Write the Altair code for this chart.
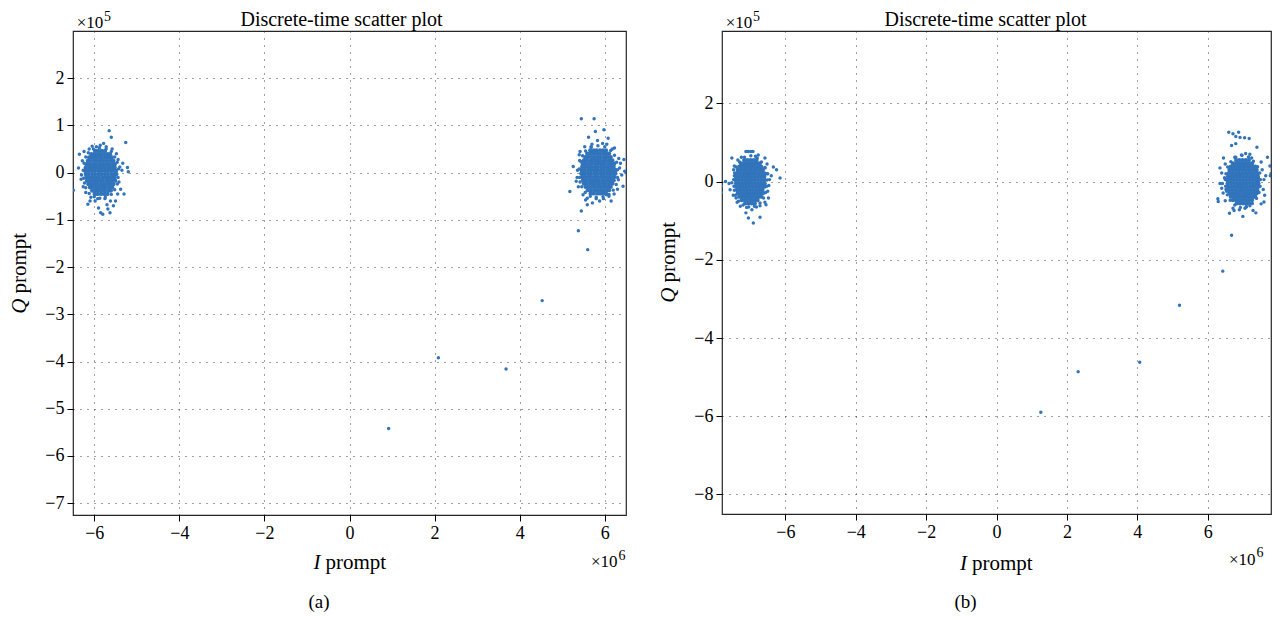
import altair as alt
import pandas as pd

# ---------------- data (I in units of 1e6, Q in units of 1e5) ----------------
# Panel (a): left cluster core, row by row
a_left_core_q = [0.46, 0.39, 0.32, 0.25, 0.18, 0.11, 0.04, -0.03, -0.10, -0.17, -0.24, -0.31, -0.38, -0.45]
a_left_core_i = [
    [-5.98, -5.91, -5.83, -5.75],
    [-6.07, -6.00, -5.92, -5.85, -5.77, -5.69, -5.63],
    [-6.12, -6.04, -5.97, -5.89, -5.82, -5.74, -5.66, -5.59],
    [-6.15, -6.08, -6.00, -5.93, -5.85, -5.78, -5.70, -5.62, -5.55],
    [-6.18, -6.11, -6.03, -5.96, -5.88, -5.81, -5.73, -5.66, -5.58, -5.52],
    [-6.20, -6.12, -6.05, -5.97, -5.90, -5.82, -5.75, -5.67, -5.60, -5.52],
    [-6.21, -6.14, -6.06, -5.99, -5.91, -5.84, -5.76, -5.69, -5.61, -5.54, -5.49],
    [-6.20, -6.13, -6.05, -5.98, -5.90, -5.83, -5.75, -5.68, -5.60, -5.53, -5.48],
    [-6.19, -6.11, -6.04, -5.96, -5.89, -5.81, -5.74, -5.66, -5.59, -5.52],
    [-6.17, -6.10, -6.02, -5.95, -5.87, -5.80, -5.72, -5.65, -5.57, -5.51],
    [-6.14, -6.07, -5.99, -5.92, -5.84, -5.77, -5.69, -5.62, -5.55],
    [-6.10, -6.03, -5.95, -5.88, -5.80, -5.73, -5.65, -5.58],
    [-6.05, -5.97, -5.90, -5.82, -5.75, -5.67, -5.61],
    [-5.99, -5.92, -5.84, -5.76, -5.69],
]
a_left_halo_i = [-6.49, -6.35, -6.37, -6.31, -6.28, -6.30, -6.26, -6.24, -6.20, -6.15, -6.12, -6.08, -6.05,
                 -5.98, -5.95, -5.90, -5.85, -5.80, -5.86, -5.78, -5.72, -5.68, -5.63, -5.65, -5.60, -5.58,
                 -5.55, -5.50, -5.48, -5.45, -5.44, -5.42, -5.40, -5.38, -5.35, -5.30, -5.26, -5.22, -5.20,
                 -5.33, -5.75, -5.92, -6.10, -5.62, -5.70,
                 -6.26, -6.25, -6.24, -6.20, -6.14, -6.02, -5.88, -5.72, -5.60, -5.52, -5.46, -5.43, -5.44,
                 -5.46, -5.52, -5.60, -5.74, -5.87, -6.00, -6.12, -6.20, -6.23]
a_left_halo_q = [-0.37, 0.39, 0.10, -0.14, 0.25, -0.05, -0.30, 0.45, -0.42, -0.67, 0.50, -0.52, 0.56,
                 -0.60, 0.55, -0.75, -0.85, -0.88, 0.58, 0.62, 0.55, -0.77, -0.85, 0.89, 0.75, 0.50,
                 -0.70, -0.60, 0.40, -0.45, 0.28, -0.20, 0.12, -0.35, 0.05, -0.45, 0.64, 0.11, 0.02,
                 0.20, -0.55, -0.55, -0.60, -0.60, -0.68,
                 0.05, -0.12, 0.20, 0.33, 0.42, 0.50, 0.53, 0.50, 0.45, 0.33, 0.22, 0.08, -0.10,
                 -0.24, -0.36, -0.46, -0.52, -0.54, -0.51, -0.44, -0.32, -0.22]

# Panel (a): right cluster core
a_right_core_q = [0.47, 0.40, 0.33, 0.26, 0.19, 0.12, 0.05, -0.02, -0.09, -0.16, -0.23, -0.30, -0.37, -0.44]
a_right_core_i = [
    [5.66, 5.74, 5.81, 5.89, 5.96, 6.03],
    [5.59, 5.66, 5.74, 5.81, 5.88, 5.96, 6.03, 6.10],
    [5.54, 5.61, 5.69, 5.76, 5.84, 5.91, 5.99, 6.06, 6.14],
    [5.51, 5.58, 5.66, 5.73, 5.81, 5.88, 5.96, 6.03, 6.11, 6.18],
    [5.48, 5.55, 5.63, 5.70, 5.78, 5.85, 5.93, 6.00, 6.08, 6.15, 6.22],
    [5.47, 5.54, 5.62, 5.69, 5.77, 5.84, 5.92, 5.99, 6.07, 6.14, 6.21],
    [5.46, 5.53, 5.61, 5.68, 5.76, 5.83, 5.91, 5.98, 6.06, 6.13, 6.20, 6.25],
    [5.45, 5.52, 5.60, 5.67, 5.75, 5.82, 5.90, 5.97, 6.05, 6.12, 6.19, 6.25],
    [5.47, 5.54, 5.62, 5.69, 5.77, 5.84, 5.92, 5.99, 6.07, 6.14, 6.22],
    [5.49, 5.56, 5.64, 5.71, 5.79, 5.86, 5.94, 6.01, 6.09, 6.16, 6.21],
    [5.51, 5.58, 5.66, 5.73, 5.81, 5.88, 5.96, 6.03, 6.11, 6.18],
    [5.55, 5.62, 5.70, 5.77, 5.85, 5.92, 6.00, 6.07, 6.14],
    [5.60, 5.67, 5.75, 5.82, 5.90, 5.97, 6.05, 6.10],
    [5.67, 5.74, 5.82, 5.89, 5.96, 6.03],
]
a_right_halo_i = [5.45, 5.75, 5.98, 5.78, 5.62, 6.08, 5.83, 6.05, 6.23, 5.53, 5.26, 5.41, 6.45, 6.50, 6.47,
                  6.43, 6.30, 5.18, 5.33, 5.49, 5.59, 5.59, 5.71, 5.88, 6.04, 6.15, 6.10, 5.45, 6.35, 6.32,
                  6.33, 5.36, 5.38, 5.40, 5.70, 5.95, 5.55, 5.80, 5.97, 6.22, 5.68, 6.18, 5.35, 6.37, 6.40, 5.42,
                  5.40, 5.41, 5.43, 5.48, 5.55, 5.68, 5.84, 6.00, 6.14, 6.23, 6.28, 6.30, 6.30,
                  6.27, 6.20, 6.10, 5.96, 5.80, 5.66, 5.54, 5.46, 5.42]
a_right_halo_q = [1.14, 1.14, 0.91, 0.87, 0.75, 0.73, 0.68, 0.60, 0.52, 0.55, 0.13, 0.26, 0.28, 0.00, 0.03,
                  -0.29, -0.35, -0.40, -0.18, -0.47, -0.54, -0.68, -0.64, -0.60, -0.47, -0.60, -0.50, -0.81, 0.10, -0.15,
                  0.30, 0.05, -0.30, 0.38, 0.60, 0.62, -0.58, -0.55, -0.55, -0.45, 0.55, 0.50, -0.10, 0.20, -0.05, 0.45,
                  0.08, -0.10, 0.24, 0.36, 0.46, 0.54, 0.57, 0.55, 0.47, 0.37, 0.22, 0.06, -0.10,
                  -0.25, -0.37, -0.46, -0.51, -0.52, -0.50, -0.42, -0.30, -0.20]
# Panel (a): transition points
a_path_i = [5.38, 5.60, 4.53, 3.68, 2.09, 0.92]
a_path_q = [-1.23, -1.63, -2.71, -4.16, -3.92, -5.42]

# Panel (b): left cluster core
b_left_core_q = [0.55, 0.465, 0.38, 0.295, 0.21, 0.125, 0.04, -0.045, -0.13, -0.215, -0.30, -0.385, -0.47, -0.555]
b_left_core_i = [
    [-7.17, -7.08, -6.99, -6.90, -6.82],
    [-7.26, -7.17, -7.08, -6.99, -6.90, -6.81, -6.73],
    [-7.31, -7.22, -7.13, -7.04, -6.95, -6.86, -6.77, -6.69],
    [-7.35, -7.26, -7.17, -7.08, -6.99, -6.90, -6.81, -6.72, -6.64],
    [-7.38, -7.29, -7.20, -7.11, -7.02, -6.93, -6.84, -6.75, -6.66, -6.60],
    [-7.40, -7.31, -7.22, -7.13, -7.04, -6.95, -6.86, -6.77, -6.68, -6.60],
    [-7.41, -7.32, -7.23, -7.14, -7.05, -6.96, -6.87, -6.78, -6.69, -6.60],
    [-7.40, -7.31, -7.22, -7.13, -7.04, -6.95, -6.86, -6.77, -6.68, -6.59],
    [-7.39, -7.30, -7.21, -7.12, -7.03, -6.94, -6.85, -6.76, -6.67, -6.60],
    [-7.37, -7.28, -7.19, -7.10, -7.01, -6.92, -6.83, -6.74, -6.65],
    [-7.35, -7.26, -7.17, -7.08, -6.99, -6.90, -6.81, -6.72, -6.64],
    [-7.31, -7.22, -7.13, -7.04, -6.95, -6.86, -6.77, -6.69],
    [-7.24, -7.15, -7.06, -6.97, -6.88, -6.79],
    [-7.14, -7.05, -6.96, -6.87],
]
b_left_halo_i = [-7.12, -7.05, -6.98, -6.92, -7.82, -7.82, -7.70, -7.60, -7.52, -6.34, -6.15, -6.25, -6.58,
                 -6.77, -6.58, -6.91, -6.72, -7.05, -7.12, -6.95, -7.28, -7.37, -6.58, -6.72, -6.48, -6.55,
                 -7.52, -7.47, -7.57, -7.40, -7.35, -7.45, -7.48, -6.50, -6.47, -6.52, -6.45, -6.85, -7.25,
                 -7.10, -6.82, -6.50, -6.40, -7.45,
                 -7.47, -7.46, -7.44, -7.40, -7.30, -7.16, -6.98, -6.80, -6.68, -6.58, -6.53, -6.52, -6.53,
                 -6.56, -6.62, -6.72, -6.88, -7.04, -7.20, -7.33, -7.42, -7.45]
b_left_halo_q = [0.77, 0.77, 0.77, 0.77, -0.12, -0.28, 0.00, -0.05, -0.03, 0.37, 0.09, 0.30, 0.60,
                 0.68, 0.35, -1.06, -0.91, -0.93, -0.80, -0.72, -0.63, -0.53, -0.53, -0.62, -0.42, -0.59,
                 0.60, 0.30, -0.21, -0.42, 0.55, 0.15, -0.35, 0.20, -0.10, 0.45, 0.05, 0.65, 0.62,
                 -0.66, -0.65, -0.25, 0.15, 0.40,
                 0.05, -0.12, 0.22, 0.37, 0.50, 0.62, 0.66, 0.60, 0.50, 0.36, 0.20, 0.04, -0.12,
                 -0.28, -0.42, -0.55, -0.63, -0.65, -0.60, -0.50, -0.35, -0.22]

# Panel (b): right cluster core
b_right_core_q = [0.55, 0.465, 0.38, 0.295, 0.21, 0.125, 0.04, -0.045, -0.13, -0.215, -0.30, -0.385, -0.47, -0.555]
b_right_core_i = [
    [6.81, 6.90, 6.99, 7.08, 7.17],
    [6.72, 6.81, 6.90, 6.99, 7.08, 7.17, 7.26],
    [6.66, 6.75, 6.84, 6.93, 7.02, 7.11, 7.20, 7.29, 7.35],
    [6.62, 6.71, 6.80, 6.89, 6.98, 7.07, 7.16, 7.25, 7.34, 7.39],
    [6.60, 6.69, 6.78, 6.87, 6.96, 7.05, 7.14, 7.23, 7.32, 7.41],
    [6.58, 6.67, 6.76, 6.85, 6.94, 7.03, 7.12, 7.21, 7.30, 7.39, 7.43],
    [6.56, 6.65, 6.74, 6.83, 6.92, 7.01, 7.10, 7.19, 7.28, 7.37, 7.44],
    [6.57, 6.66, 6.75, 6.84, 6.93, 7.02, 7.11, 7.20, 7.29, 7.38, 7.44],
    [6.58, 6.67, 6.76, 6.85, 6.94, 7.03, 7.12, 7.21, 7.30, 7.39, 7.43],
    [6.60, 6.69, 6.78, 6.87, 6.96, 7.05, 7.14, 7.23, 7.32, 7.41],
    [6.62, 6.71, 6.80, 6.89, 6.98, 7.07, 7.16, 7.25, 7.34, 7.39],
    [6.66, 6.75, 6.84, 6.93, 7.02, 7.11, 7.20, 7.29, 7.35],
    [6.72, 6.81, 6.90, 6.99, 7.08, 7.17, 7.26],
    [6.83, 6.92, 7.01, 7.10, 7.18],
]
b_right_halo_i = [6.60, 6.72, 6.80, 6.88, 6.92, 7.05, 7.18, 7.40, 6.68, 6.80, 6.96, 7.08, 7.70, 7.77, 7.20,
                  6.77, 7.80, 7.78, 6.35, 6.42, 6.29, 6.44, 6.54, 6.40, 6.35, 6.40, 6.30, 6.50, 6.72, 6.75,
                  7.00, 7.06, 7.10, 7.29, 7.37, 7.52, 7.60, 6.62, 7.55, 7.60, 7.58, 7.52, 6.50, 6.45, 7.25,
                  6.90, 7.20, 6.48, 7.62, 7.65,
                  6.50, 6.51, 6.52, 6.57, 6.66, 6.80, 6.98, 7.16, 7.30, 7.42, 7.48, 7.50, 7.49,
                  7.46, 7.39, 7.27, 7.10, 6.93, 6.77, 6.64, 6.56, 6.52]
b_right_halo_q = [1.26, 1.22, 1.15, 1.26, 1.13, 1.12, 1.10, 0.88, 0.92, 0.97, 0.68, 0.72, 0.62, 0.40, 0.70,
                  0.62, 0.20, 0.15, -0.05, -0.05, -0.44, -0.29, -0.25, -0.17, 0.35, 0.22, -0.51, -0.49, -0.68, -0.74,
                  -0.89, -0.68, -0.65, -0.74, -0.80, -0.57, -0.52, -0.81, 0.30, 0.05, -0.20, 0.50, 0.45, 0.60, 0.60,
                  -0.72, -0.62, 0.10, -0.35, 0.15,
                  0.05, -0.12, 0.20, 0.37, 0.51, 0.62, 0.67, 0.63, 0.52, 0.38, 0.22, 0.05, -0.12,
                  -0.28, -0.43, -0.56, -0.64, -0.66, -0.60, -0.48, -0.34, -0.20]
# Panel (b): transition points
b_path_i = [6.68, 6.43, 5.20, 4.07, 2.32, 1.26]
b_path_q = [-1.37, -2.29, -3.16, -4.62, -4.86, -5.90]

# axis settings
a_x_domain, a_y_domain = [-6.5, 6.5], [-7.25, 3.0]
b_x_domain, b_y_domain = [-7.8, 7.8], [-8.5, 3.85]
a_x_ticks, a_y_ticks = [-6, -4, -2, 0, 2, 4, 6], [-7, -6, -5, -4, -3, -2, -1, 0, 1, 2]
b_x_ticks, b_y_ticks = [-6, -4, -2, 0, 2, 4, 6], [-8, -6, -4, -2, 0, 2]

TITLE = "Discrete-time scatter plot"
FONT = "Liberation Serif"
BLUE = "#3174bb"


def build_points(parts):
    rows = []
    for kind, a, b in parts:
        if kind == "rows":
            for q, irow in zip(a, b):
                for i in irow:
                    rows.append({"I": i, "Q": q, "part": "core"})
        else:
            for i, q in zip(a, b):
                rows.append({"I": i, "Q": q, "part": "spread"})
    return pd.DataFrame(rows)


df_a = build_points([
    ("rows", a_left_core_q, a_left_core_i), ("pts", a_left_halo_i, a_left_halo_q),
    ("rows", a_right_core_q, a_right_core_i), ("pts", a_right_halo_i, a_right_halo_q),
    ("pts", a_path_i, a_path_q),
])
df_b = build_points([
    ("rows", b_left_core_q, b_left_core_i), ("pts", b_left_halo_i, b_left_halo_q),
    ("rows", b_right_core_q, b_right_core_i), ("pts", b_right_halo_i, b_right_halo_q),
    ("pts", b_path_i, b_path_q),
])


def label(text, x, y, size, align="left", style="normal", angle=0, dx=0):
    kw = dict(font=FONT, fontSize=size, align=align, baseline="alphabetic",
              color="black", fontStyle=style)
    if angle:
        kw["angle"] = angle
    if dx:
        kw["dx"] = dx
    return alt.Chart(pd.DataFrame({"t": [text]})).mark_text(**kw).encode(
        text="t:N", x=alt.value(x), y=alt.value(y))


def panel(df, xd, yd, xt, yt, w, h, cfg):
    pts = alt.Chart(df).mark_circle(color=BLUE, opacity=1, clip=True).encode(
        x=alt.X("I:Q", scale=alt.Scale(domain=xd, nice=False, zero=False),
                axis=alt.Axis(values=xt, title=None)),
        y=alt.Y("Q:Q", scale=alt.Scale(domain=yd, nice=False, zero=False),
                axis=alt.Axis(values=yt, title=None)),
        size=alt.Size("part:N", scale=alt.Scale(domain=["core", "spread"], range=[19, 12]),
                      legend=None),
    )
    texts = [
        label(TITLE, w / 2 + cfg["title_dx"], -5, 20, align="center"),
        label("×10", 3.7, -3, 17),
        label("5", 31, -10.5, 14),
        label("×10", cfg["e6x"], cfg["e6y"], 17),
        label("6", cfg["e6x"] + 27.5, cfg["e6y"] - 7.5, 14),
        label("I", cfg["xt_x"], cfg["xt_y"], 21, align="right", style="italic"),
        label("prompt", cfg["xt_x"], cfg["xt_y"], 21, align="left", dx=5),
        label("Q", cfg["yt_x"], cfg["yt_y"], 21, align="right", style="italic", angle=270),
        label("prompt", cfg["yt_x"], cfg["yt_y"], 21, align="left", angle=270, dx=5),
        label(cfg["tag"], cfg["tag_x"], cfg["tag_y"], 19, align="center"),
    ]
    return alt.layer(pts, *texts).properties(width=w, height=h)


cfg_a = dict(title_dx=-8, e6x=518, e6y=536.3, xt_x=247.5, xt_y=538, yt_x=-47, yt_y=267.5,
             tag="(a)", tag_x=246, tag_y=577)
cfg_b = dict(title_dx=-11, e6x=507, e6y=533.5, xt_x=245, xt_y=538.6, yt_x=-47.5, yt_y=256.5,
             tag="(b)", tag_x=243.6, tag_y=577)

chart_a = panel(df_a, a_x_domain, a_y_domain, a_x_ticks, a_y_ticks, 553, 484, cfg_a)
chart_b = panel(df_b, b_x_domain, b_y_domain, b_x_ticks, b_y_ticks, 549, 483, cfg_b)

chart = alt.hconcat(chart_a, chart_b, spacing=96, bounds="flush").properties(
    padding={"left": 0, "top": 0, "right": 0, "bottom": 0}
).configure_axis(
    labelFont=FONT, labelFontSize=18, labelColor="black", labelFlush=False,
    labelOverlap=False, labelPadding=3, tickColor="black", tickSize=6, tickWidth=1,
    domain=False, grid=True, gridColor="#222222", gridDash=[1, 6], gridWidth=1,
    gridOpacity=0.85,
).configure_view(stroke="#262626", strokeWidth=1.2)

chart.save("out.html", embed_options={"renderer": "svg", "actions": False})
